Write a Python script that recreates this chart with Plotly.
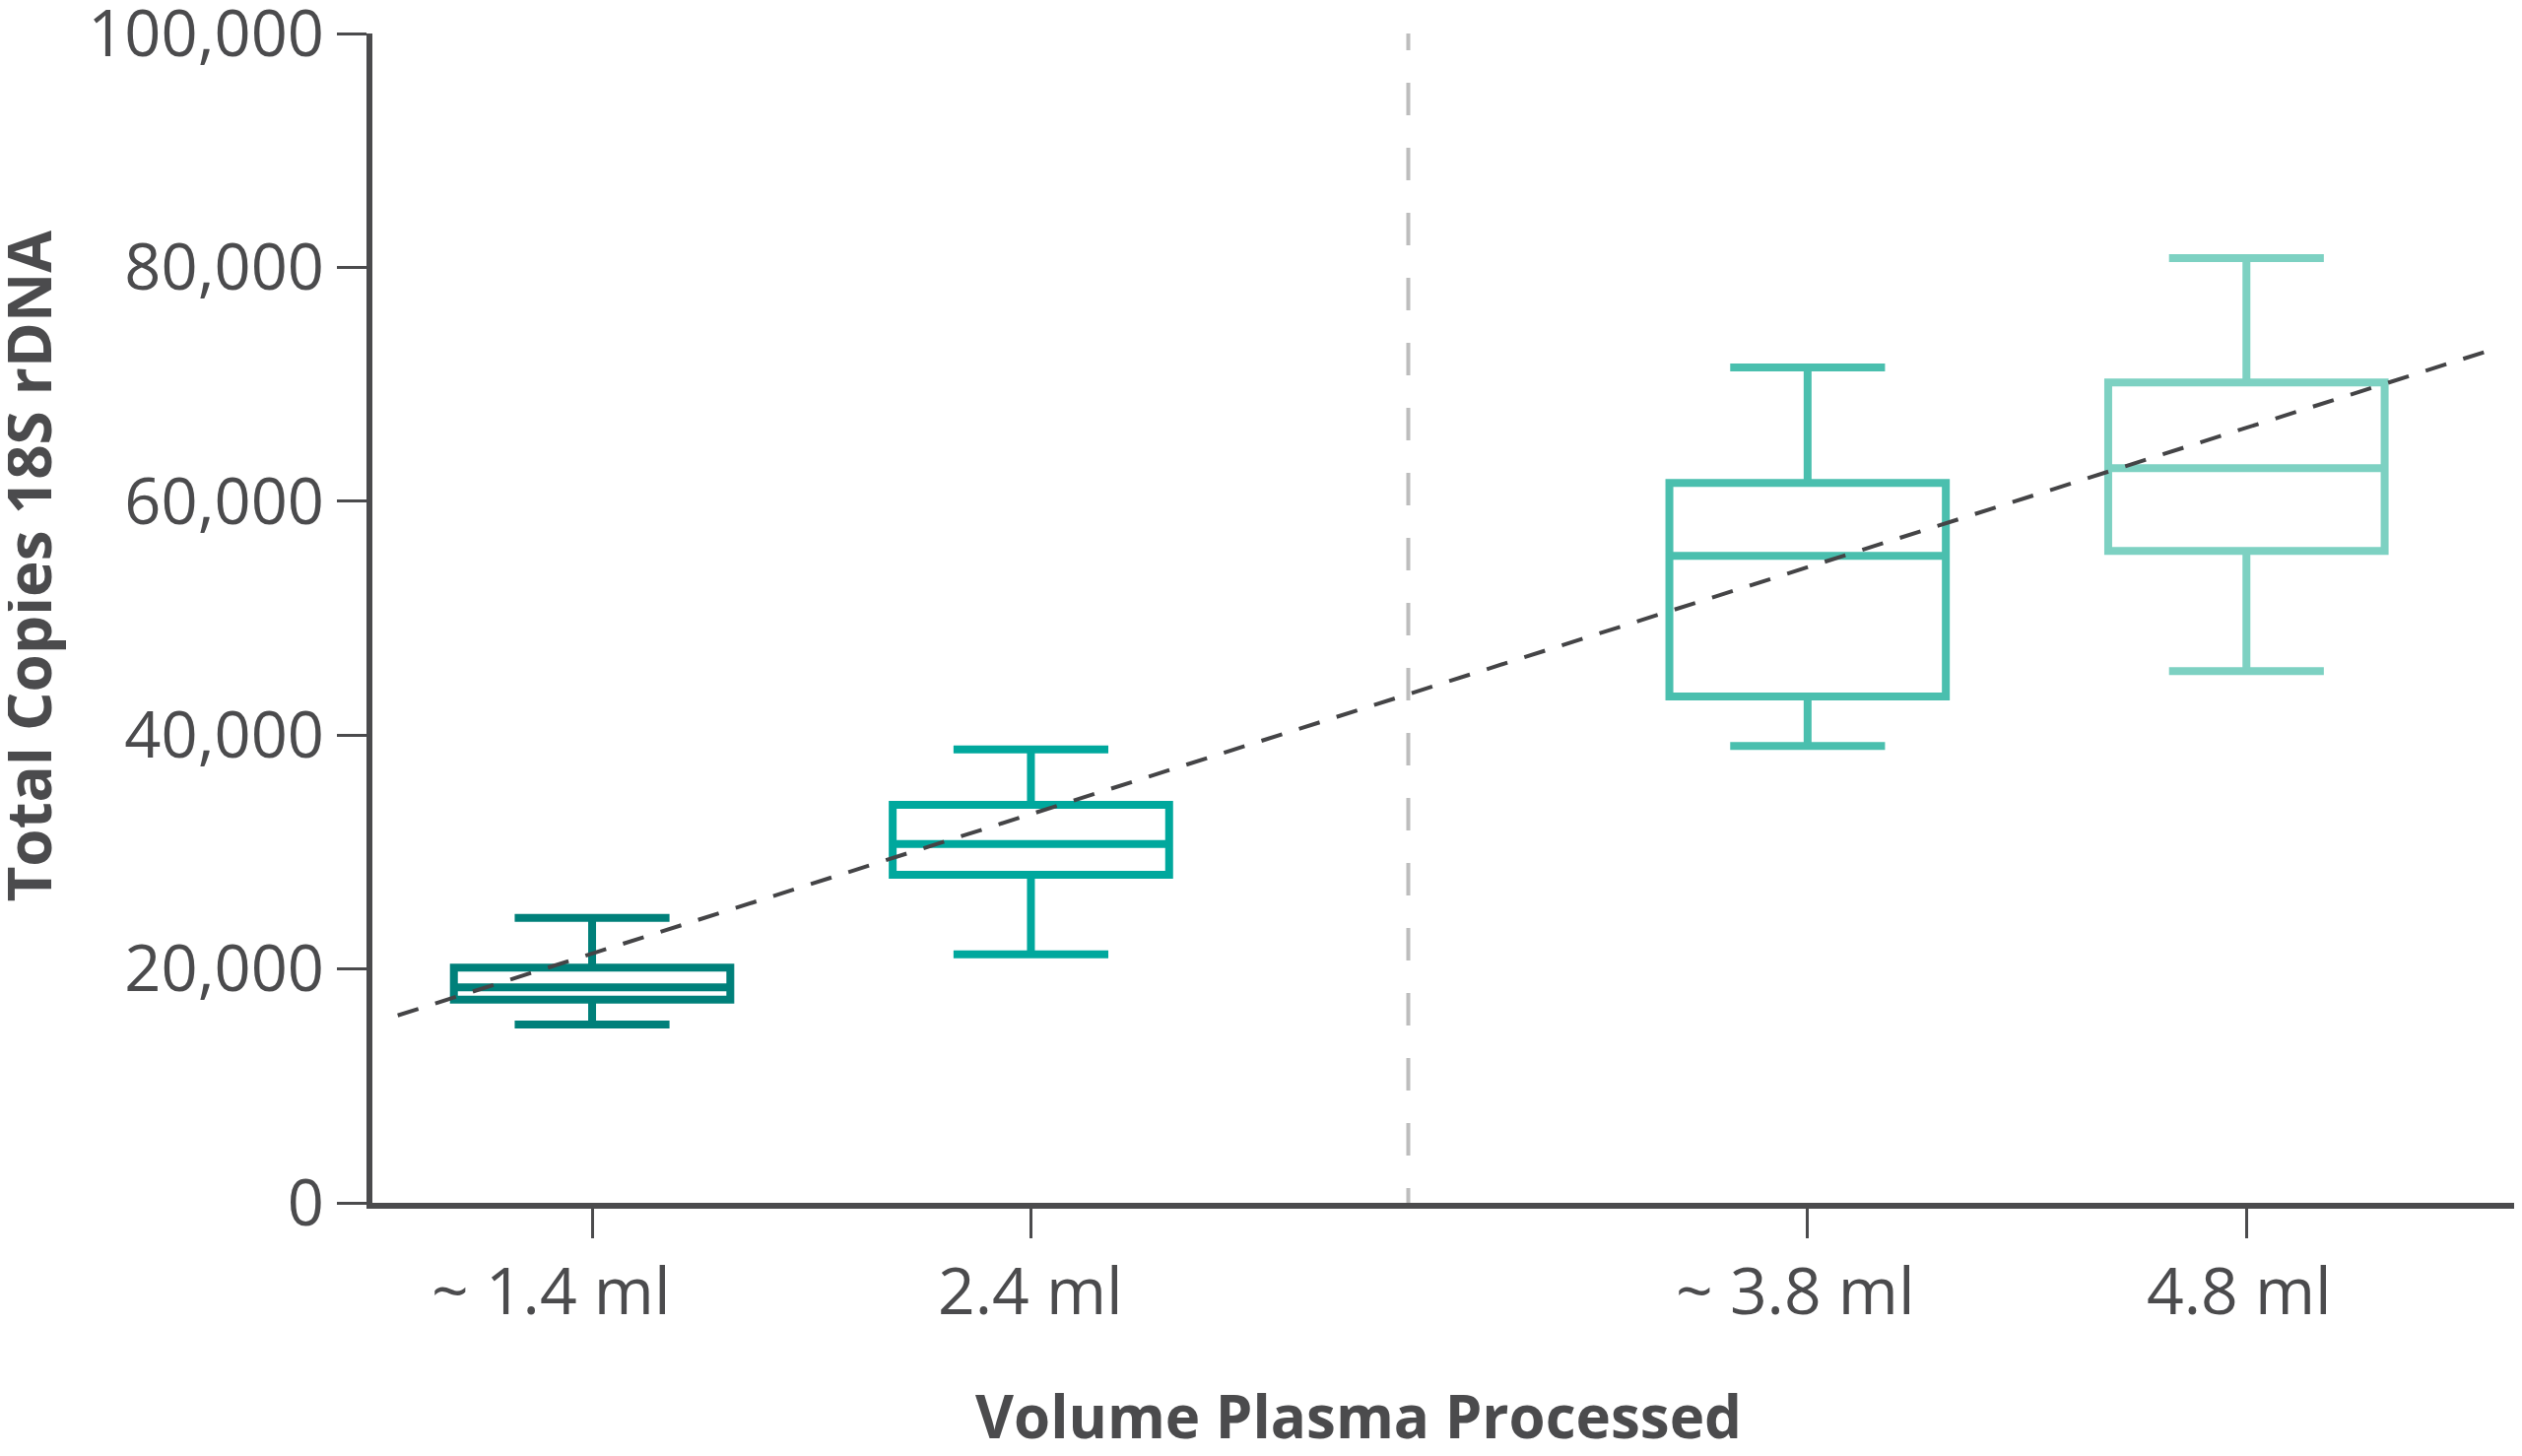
import plotly.graph_objects as go

# ---- data ----
categories = ["~ 1.4 ml", "2.4 ml", "~ 3.8 ml", "4.8 ml"]
cat_pos = [0.0, 1.0, 2.77, 3.77]          # horizontal placement of groups
upper_whisker = [24370, 38780, 71440, 80790]
q3_vals = [20110, 34040, 61560, 70150]
median_vals = [18420, 30690, 55320, 62820]
q1_vals = [17380, 28050, 43300, 55750]
lower_whisker = [15250, 21260, 39060, 45470]
box_colors = ["#00807A", "#00A89D", "#4ABFAE", "#7DD1C2"]

trend_x = [-0.443, 4.317]
trend_y = [16030, 72810]

divider_x = 1.86

y_ticks = [0, 20000, 40000, 60000, 80000, 100000]

# label nudges (pixels) to mimic the reference's typesetting
label_xshift = [-42, 0, -12, -7]

TEXT = "#4b4b4d"
AXIS = "#4b4b4d"

# dash pattern for the divider, phase-shifted like the reference
divider_dash = "17px," + ",".join(["33px"] * 37)

fig = go.Figure()

for i, cat in enumerate(categories):
    fig.add_trace(go.Box(
        x=[cat_pos[i]],
        q1=[q1_vals[i]],
        median=[median_vals[i]],
        q3=[q3_vals[i]],
        lowerfence=[lower_whisker[i]],
        upperfence=[upper_whisker[i]],
        width=0.63,
        whiskerwidth=0.56,
        line=dict(color=box_colors[i], width=8),
        fillcolor="rgba(255,255,255,0)",
        name=cat,
        showlegend=False,
        hoverinfo="skip",
        boxpoints=False,
    ))

fig.add_trace(go.Scatter(
    x=trend_x, y=trend_y, mode="lines",
    line=dict(color="#444446", width=4, dash="22px,18px"),
    showlegend=False, hoverinfo="skip",
))

fig.add_shape(type="line", xref="x", yref="y",
              x0=divider_x, x1=divider_x, y0=100000, y1=0,
              line=dict(color="#bdbdbd", width=4, dash=divider_dash),
              layer="below")

# page body adds an 8px offset; compensate
fig.update_layout(
    width=2552, height=1470,
    margin=dict(l=370, r=0, t=26, b=257),
    paper_bgcolor="white", plot_bgcolor="white",
    font=dict(family="Open Sans", color=TEXT),
)

fig.update_xaxes(
    range=[-0.5007, 4.398],
    tickvals=cat_pos, ticktext=[""] * len(categories),
    ticks="outside", ticklen=30, tickwidth=3, tickcolor=AXIS,
    showline=True, linewidth=6, linecolor=AXIS,
    showgrid=False, zeroline=False, automargin=False,
)
fig.update_yaxes(
    range=[0, 100000],
    tickvals=y_ticks, tickformat=",",
    ticks="outside", ticklen=30, tickwidth=3, tickcolor=AXIS,
    showline=True, linewidth=6, linecolor=AXIS,
    showgrid=False, zeroline=False, automargin=False,
    ticklabeloverflow="allow",
    tickfont=dict(size=65, color=TEXT, family="Open Sans"),
)

for i, cat in enumerate(categories):
    fig.add_annotation(
        text=cat, xref="x", yref="paper", x=cat_pos[i], y=-0.0737,
        xanchor="center", yanchor="middle", showarrow=False,
        xshift=label_xshift[i],
        font=dict(size=66, color=TEXT, family="Open Sans"),
    )

fig.add_annotation(
    text="<b>Volume Plasma Processed</b>",
    xref="paper", yref="paper", x=0.4588, y=-0.182,
    xanchor="center", yanchor="middle", showarrow=False,
    font=dict(size=60, color=TEXT, family="Open Sans"),
)
fig.add_annotation(
    text="<b>Total Copies 18S rDNA</b>",
    xref="paper", yref="paper", x=-0.1606, y=0.5442,
    xanchor="center", yanchor="middle", showarrow=False, textangle=-90,
    font=dict(size=62, color=TEXT, family="Open Sans"),
)

fig.write_html("out.html")
